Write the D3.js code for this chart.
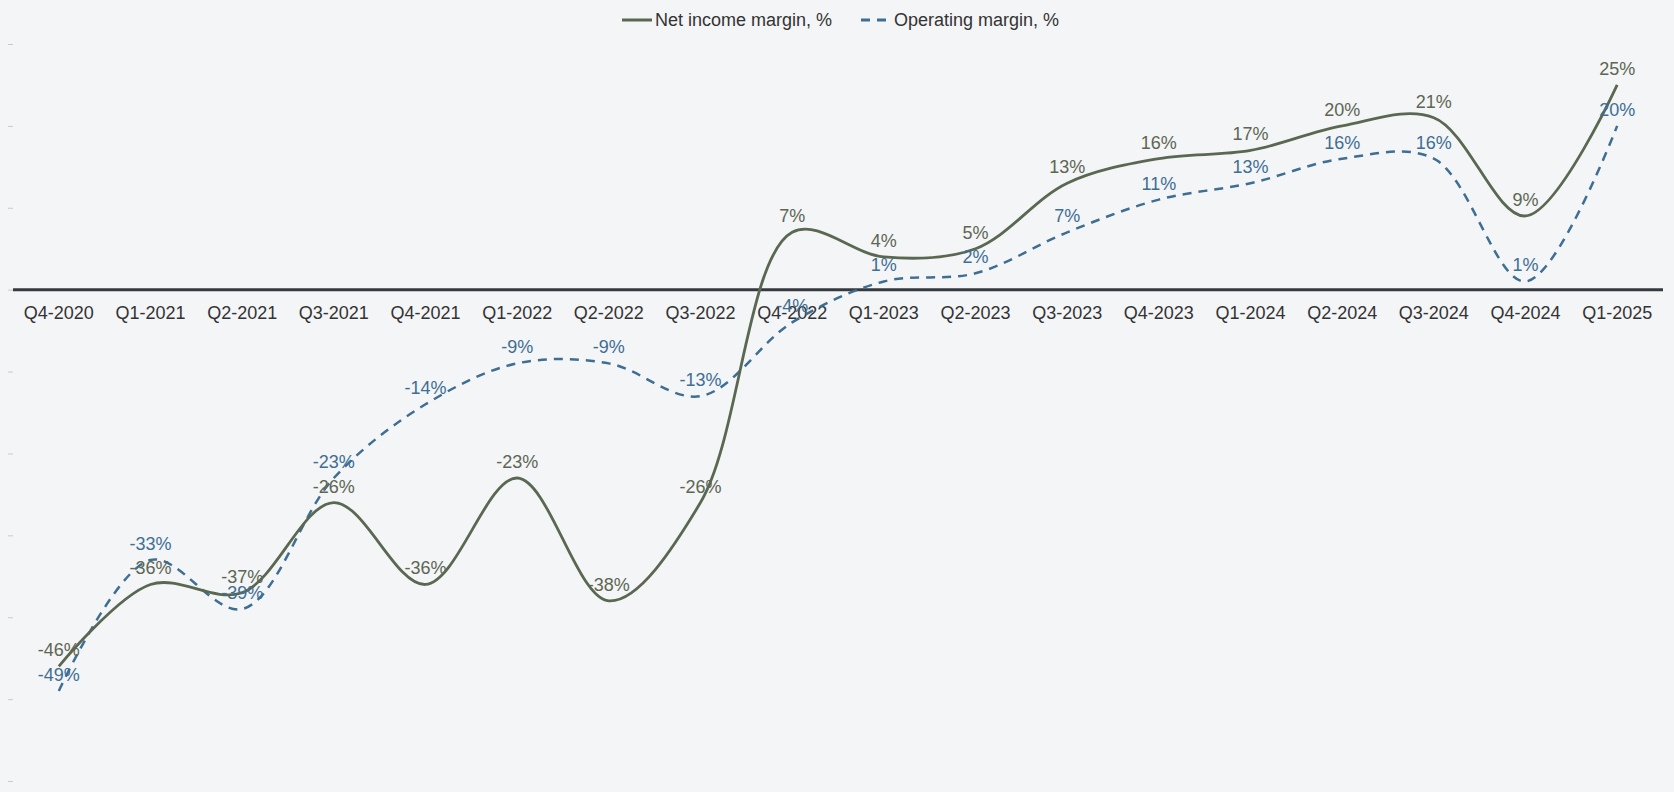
<!DOCTYPE html>
<html>
<head>
<meta charset="utf-8">
<script src="https://cdn.jsdelivr.net/npm/d3@7"></script>
<style>
  body { margin: 0; background: #f3f5f7; }
  svg { display: block; font-family: "Liberation Sans", Arial, Helvetica, sans-serif; }
</style>
</head>
<body>
<script>
// quarters and the two margin series, in percent
var quarters = ["Q4-2020", "Q1-2021", "Q2-2021", "Q3-2021", "Q4-2021", "Q1-2022", "Q2-2022", "Q3-2022", "Q4-2022",
                "Q1-2023", "Q2-2023", "Q3-2023", "Q4-2023", "Q1-2024", "Q2-2024", "Q3-2024", "Q4-2024", "Q1-2025"]
var netIncome = [-46, -36, -37, -26, -36, -23, -38, -26, 7, 4, 5, 13, 16, 17, 20, 21, 9, 25]
var operating = [-49, -33, -39, -23, -14, -9, -9, -13, -4, 1, 2, 7, 11, 13, 16, 16, 1, 20]
var yTicks = [-60, -50, -40, -30, -20, -10, 0, 10, 20, 30]

var width = 1674
var height = 792
var netColor = "#5b6851"
var opColor = "#3f6e93"

var svg = d3.select("body").append("svg").attr("width", width).attr("height", height)

// scales
var x = d3.scaleBand().domain(quarters).range([13, 1663])
var y = d3.scaleLinear().domain([-60, 30]).range([781, 44])
function cx(d, i) { return x(quarters[i]) + x.bandwidth() / 2 }

// small tick marks on the left, no labels
var yAxis = d3.axisLeft(y).tickValues(yTicks).tickSize(5).tickFormat("")
var gy = svg.append("g").attr("transform", "translate(13,0)").call(yAxis)
gy.select(".domain").remove()
gy.selectAll(".tick line").attr("stroke", "#c8cbce")

// category labels under the zero line
var xAxis = d3.axisBottom(x).tickSize(0).tickPadding(17)
var gx = svg.append("g").attr("transform", "translate(0," + y(0) + ")").call(xAxis)
gx.select(".domain").remove()
gx.selectAll("text").attr("font-size", 18).attr("fill", "#333").style("font-family", "Liberation Sans, Arial, sans-serif")

// zero line
svg.append("line").attr("x1", 13).attr("x2", 1663).attr("y1", y(0)).attr("y2", y(0))
  .attr("stroke", "#343a40").attr("stroke-width", 3)

// lines
var line = d3.line().x(cx).y(function(d) { return y(d) }).curve(d3.curveCatmullRom.alpha(0.5))
svg.append("path").datum(operating).attr("d", line).attr("fill", "none")
  .attr("stroke", opColor).attr("stroke-width", 2.5).attr("stroke-dasharray", "9,7")
svg.append("path").datum(netIncome).attr("d", line).attr("fill", "none")
  .attr("stroke", netColor).attr("stroke-width", 2.8)

// value labels above each point
function labels(data, color) {
    svg.append("g").selectAll("text").data(data).enter().append("text")
      .attr("x", cx).attr("y", function(d) { return y(d) - 10 })
      .attr("text-anchor", "middle").attr("font-size", 18).attr("fill", color)
      .text(function(d) { return d + "%" })
}
labels(netIncome, "#5d6653")
labels(operating, opColor)

// legend
var lg = svg.append("g").attr("transform", "translate(622,20)")
lg.append("line").attr("x1", 0).attr("x2", 30).attr("stroke", netColor).attr("stroke-width", 3)
lg.append("text").attr("x", 33).attr("dy", "0.35em").attr("font-size", 18).attr("fill", "#333").text("Net income margin, %")
lg.append("line").attr("x1", 239).attr("x2", 269).attr("stroke", opColor).attr("stroke-width", 3).attr("stroke-dasharray", "9,7")
lg.append("text").attr("x", 272).attr("dy", "0.35em").attr("font-size", 18).attr("fill", "#333").text("Operating margin, %")
</script>
</body>
</html>
